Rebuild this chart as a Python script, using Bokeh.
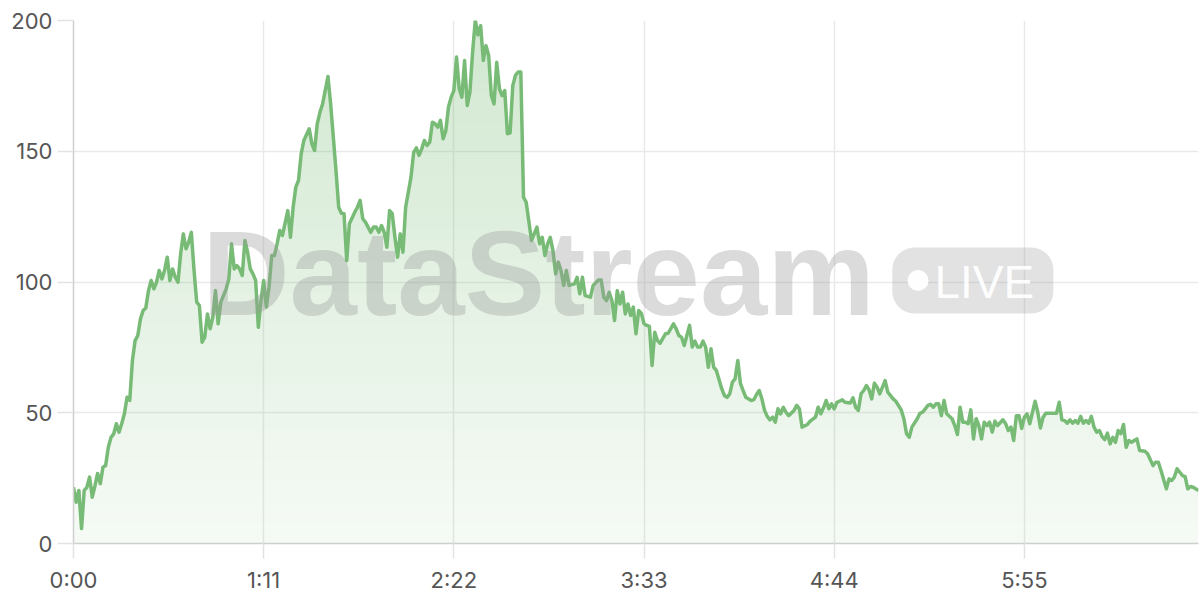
import numpy as np
from bokeh.plotting import figure
from bokeh.models import Range1d, FixedTicker, Label, BoxAnnotation
from bokeh.core.properties import value
from bokeh.embed import file_html
from bokeh.resources import INLINE

# time in seconds
t_sec = [0, 1, 2, 3, 4, 5, 6, 7, 8, 9, 10, 11, 12, 13, 14, 15, 16, 17, 18, 19,
         20, 21, 22, 23, 24, 25, 26, 27, 28, 29, 30, 31, 32, 33, 34, 35, 36, 37, 38, 39,
         40, 41, 42, 43, 44, 45, 46, 47, 48, 49, 50, 51, 52, 53, 54, 55, 57, 58, 59, 60,
         61, 62, 63, 64, 65, 66, 67, 68, 69, 70, 71, 72, 73, 74, 75, 76, 77, 78, 80, 81,
         82, 83, 84, 85, 86, 88, 89, 90, 91, 92, 93, 95, 96, 97, 98, 99, 100, 101, 102, 103,
         105, 106, 107, 108, 109, 111, 112, 113, 114, 115, 116, 117, 118, 119, 120, 121, 122, 123, 124, 126,
         127, 128, 129, 130, 131, 132, 133, 134, 135, 136, 137, 138, 139, 140, 141, 142, 143, 144, 145, 146,
         147, 148, 149, 150, 151, 152, 153, 154, 155, 156, 157, 158, 159, 160, 161, 162, 163, 164, 165, 166,
         167, 168, 169, 171, 172, 173, 174, 175, 176, 177, 178, 179, 180, 181, 182, 183, 184, 185, 187, 188,
         189, 190, 191, 193, 194, 196, 197, 198, 199, 200, 201, 202, 203, 204, 205, 206, 207, 208, 209, 210,
         211, 212, 213, 214, 215, 216, 217, 218, 219, 221, 222, 224, 225, 226, 227, 228, 230, 231, 232, 233,
         234, 235, 236, 237, 238, 239, 240, 242, 243, 244, 245, 246, 247, 248, 249, 250, 251, 253, 254, 255,
         256, 257, 258, 259, 260, 261, 262, 263, 264, 265, 266, 267, 269, 270, 271, 272, 274, 275, 277, 278,
         279, 280, 281, 282, 283, 284, 285, 286, 287, 288, 290, 291, 292, 293, 294, 295, 296, 297, 298, 299,
         300, 301, 303, 304, 306, 307, 309, 310, 311, 312, 313, 315, 316, 317, 319, 320, 321, 322, 323, 324,
         325, 326, 328, 329, 330, 331, 332, 333, 334, 335, 336, 337, 338, 339, 340, 341, 342, 343, 344, 345,
         347, 348, 349, 350, 351, 352, 353, 354, 355, 356, 357, 359, 360, 361, 362, 363, 365, 367, 368, 369,
         370, 371, 372, 373, 374, 375, 376, 377, 378, 379, 380, 381, 382, 383, 384, 385, 386, 387, 388, 389,
         390, 391, 392, 393, 394, 395, 396, 397, 398, 400, 401, 403, 404, 405, 406, 408, 409, 410, 411, 412,
         414, 415, 416, 417, 418, 420]

viewers = [21.5, 15.8, 20.3, 5.7, 20.3, 21.5, 25.4, 17.7, 22, 26.8, 22.9, 29.2, 29.8, 36.8, 40.6, 41.9, 45.8, 42.6, 45.8, 49.6,
           55.9, 54.7, 70, 77.6, 79.5, 85.9, 89.1, 90.1, 96.7, 100.6, 97.4, 99.9, 104.4, 101.2, 104.4, 109.5, 100.6, 105, 101.8, 99.9,
           110.8, 118.4, 112.7, 115.2, 119, 104.4, 92.3, 91, 77, 78.9, 87.8, 82.1, 86.5, 96.7, 84, 92.3, 97.4, 101.2, 114.6, 105,
           106.3, 105, 102.5, 115.9, 111.4, 105, 103.1, 100.6, 82.7, 92.9, 100.6, 90.4, 98, 110.1, 110.1, 114.6, 119.7, 117.8, 127.3, 117.1,
           128.6, 136.3, 138.8, 149, 154.1, 158.6, 152.8, 150.3, 160.5, 164.9, 168.1, 178.6, 168.1, 155.4, 142.6, 128.6, 126.3, 126.1, 108.2, 122.3,
           126.7, 128.6, 131.2, 124.2, 122.9, 119, 121, 121, 119, 121.6, 119, 113.3, 127.3, 126.1, 117.1, 109.5, 118.4, 111.4, 128.6, 140.1,
           149.6, 151.3, 148.4, 150.9, 154.1, 152.2, 153.5, 161.1, 160.5, 159.2, 161.8, 154.8, 157.9, 166.9, 170.7, 173.2, 186, 173.9, 170.7, 184.7,
           167.5, 172.6, 187.9, 200, 194.5, 198, 184.7, 190.4, 186.6, 171.3, 168.1, 184, 173.9, 171.3, 173.2, 156.7, 157, 175.1, 179, 180.3,
           180.3, 132.4, 130.5, 115.9, 118.4, 121, 114.6, 117.1, 110.1, 114.6, 117.1, 112, 103.1, 107.6, 104.4, 98.7, 104.4, 98.7, 99.3, 101.8,
           95.5, 101.8, 94.8, 94.2, 98.7, 100.8, 100.8, 94.2, 92.9, 96.1, 92.9, 85.3, 96.7, 91.6, 96.1, 87.8, 91.6, 87.2, 90.4, 80.2,
           89.1, 88, 84, 83.4, 83, 68.1, 80.8, 77.6, 76.6, 80.2, 80.4, 84, 82.1, 79.5, 78.9, 75.7, 83.4, 75.1, 77.4, 75.1,
           75.1, 77.4, 75.1, 67.4, 74.5, 67.4, 66.2, 59.2, 56.6, 55.9, 57.2, 61.7, 63, 70, 61.1, 58.5, 55.9, 54.7, 55, 57,
           58.5, 55.3, 50.9, 48.6, 47.3, 48.3, 46.4, 51.5, 49.6, 52.1, 50.2, 48.9, 50.9, 52.8, 51.5, 44.5, 45.5, 46.8, 48.3, 52.1,
           49.6, 51.9, 54.7, 51.5, 53.4, 51.5, 54, 54.4, 55, 54, 53.7, 55.7, 52.1, 50.9, 57.2, 58.5, 60.4, 58.8, 55.3, 61.3,
           59.8, 57.2, 62.3, 57.9, 55.3, 54.4, 51.1, 47.7, 42, 40.6, 44.5, 47.7, 49.8, 50.2, 52.8, 53.2, 52.1, 53.4, 53.4, 48.9,
           54.7, 49.6, 47.7, 45.1, 41.7, 52.1, 46.4, 46.4, 45.8, 51.1, 40, 47.7, 45.1, 40, 46.4, 45.1, 46.4, 42.6, 46.8, 45.1,
           47.3, 45.8, 43.2, 44.5, 39.4, 48.9, 48.9, 44, 48.3, 49.6, 45.8, 54.4, 50.2, 44.2, 48.3, 49.8, 49.8, 49.8, 54, 47.3,
           47, 46, 47.3, 46, 47, 46, 48.6, 46, 47, 46, 48.6, 44.5, 42.6, 43.2, 40.9, 39.7, 42.2, 38.1, 40.6, 38.7,
           43.2, 42, 45.5, 36.8, 39.4, 38.7, 39.4, 40, 35.6, 35.3, 34.3, 29.8, 31.1, 31.1, 27.9, 20.9, 24.7, 24.1, 25.4, 28.6,
           26, 25.6, 20.9, 21.8, 21.5, 20.3]

x_ticks = [0, 71, 142, 213, 284, 355]
x_tick_labels = ["0:00", "1:11", "2:22", "3:33", "4:44", "5:55"]
y_ticks = [0, 50, 100, 150, 200]

LINE = "#78bb76"
TXT = "#555555"
FONT = "Inter"

p = figure(width=1200, height=600, output_backend="svg", toolbar_location=None,
           x_range=Range1d(0, 420), y_range=Range1d(0, 200),
           min_border_left=73, min_border_top=20, min_border_right=2, min_border_bottom=57)
p.outline_line_color = None
p.background_fill_color = "white"
p.border_fill_color = "white"

x = np.array(t_sec, dtype=float)
v = np.array(viewers, dtype=float)

# vertical gradient fill: non-overlapping horizontal bands with increasing alpha
step = 4
levels = np.arange(0, 200, step)
for lo in levels:
    a = 0.07 + 0.27 * (lo + step / 2) / 200.0
    p.varea(x=x, y1=np.minimum(v, lo), y2=np.minimum(v, lo + step),
            fill_color=LINE, fill_alpha=a)

# watermark
wm = Label(x=173.6, y=103.6, text="DataStream", text_font="Liberation Sans", text_font_style="bold",
           text_font_size="121px", text_align="center", text_baseline="alphabetic",
           text_color="#9a9a9a", text_alpha=0.36)
p.add_layout(wm)
badge = BoxAnnotation(left=305.7, right=365.8, bottom=88.0, top=113.2,
                      fill_color="#a0a0a0", fill_alpha=0.3, line_alpha=0, border_radius=22)
p.add_layout(badge)
p.scatter(x=[315.3], y=[100.6], size=21, fill_color="white", line_color=None,
          fill_alpha=0.95, level="overlay")
live = Label(x=321.4, y=100.0, text="LIVE", text_font="Liberation Sans",
             text_font_size="46px", text_baseline="alphabetic", text_color="white", text_alpha=0.95)
p.add_layout(live)

p.line(x, v, line_color=LINE, line_width=3.5, line_join="round")

# axes
p.xaxis.ticker = FixedTicker(ticks=x_ticks)
p.xaxis.major_label_overrides = {float(k): lab for k, lab in zip(x_ticks, x_tick_labels)}
p.yaxis.ticker = FixedTicker(ticks=y_ticks)
for ax in (p.xaxis[0], p.yaxis[0]):
    ax.axis_line_color = "#cfcfcf"
    ax.axis_line_width = 1.5
    ax.major_tick_line_color = "#e3e3e3"
    ax.major_tick_line_width = 1.5
    ax.major_tick_in = 0
    ax.minor_tick_line_color = None
    ax.major_label_text_font = FONT
    ax.major_label_text_font_size = "22px"
    ax.major_label_text_color = TXT
p.xaxis.major_tick_out = 15
p.xaxis.major_label_standoff = 8
p.yaxis.major_tick_out = 16
p.yaxis.major_label_standoff = 5

p.xgrid.grid_line_color = "#e9e9e9"
p.ygrid.grid_line_color = "#e9e9e9"
p.xgrid.grid_line_width = 1.5
p.ygrid.grid_line_width = 1.5

open("out.html", "w").write(file_html(p, INLINE))
